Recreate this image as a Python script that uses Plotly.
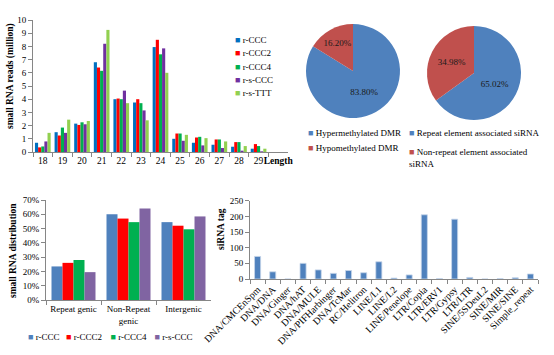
import plotly.graph_objects as go

# ---------------- data ----------------
lengths = ["18", "19", "20", "21", "22", "23", "24", "25", "26", "27", "28", "29"]
len_axis_labels = lengths + ["Length"]
series_names = ["r-CCC", "r-CCC2", "r-CCC4", "r-s-CCC", "r-s-TTT"]
reads_rccc = [0.70, 1.50, 2.15, 6.80, 4.00, 3.75, 7.95, 1.00, 0.70, 0.55, 0.40, 0.25]
reads_rccc2 = [0.35, 1.25, 2.05, 6.40, 4.05, 4.00, 8.50, 1.40, 1.10, 0.95, 0.75, 0.60]
reads_rccc4 = [0.42, 1.85, 2.25, 6.15, 4.00, 3.70, 7.40, 1.40, 1.15, 0.95, 0.75, 0.45]
reads_rsccc = [0.80, 1.45, 2.10, 8.20, 4.65, 3.15, 7.85, 0.85, 0.50, 0.30, 0.10, 0.05]
reads_rsttt = [1.45, 2.45, 2.35, 9.25, 3.70, 2.40, 6.00, 1.30, 1.05, 0.80, 0.45, 0.25]

dmr_labels = ["Hypermethylated DMR", "Hypomethylated DMR"]
dmr_values = [83.80, 16.20]
sirna_labels = ["Repeat element associated siRNA", "Non-repeat element associated<br>siRNA"]
sirna_values = [65.02, 34.98]

dist_categories = ["Repeat genic", "Non-Repeat<br>genic", "Intergenic"]
dist_names = ["r-CCC", "r-CCC2", "r-CCC4", "r-s-CCC"]
dist_rccc = [0.235, 0.600, 0.545]
dist_rccc2 = [0.260, 0.570, 0.520]
dist_rccc4 = [0.280, 0.545, 0.495]
dist_rsccc = [0.195, 0.640, 0.585]

repeat_classes = ["DNA/CMCEnSpm", "DNA/DNA", "DNA/Ginger", "DNA/hAT", "DNA/MULE",
                  "DNA/PIFHarbinger", "DNA/TcMar", "RC/Helitron", "LINE/L1", "LINE/L2",
                  "LINE/Penelope", "LTR/Copia", "LTR/ERV1", "LTR/Gypsy", "LTR/LTR",
                  "SINE/5SDeuL2", "SINE/MIR", "SINE/SINE", "Simple_repeat"]
sirna_tags = [72, 23, 0, 50, 29, 18, 27, 20, 55, 3, 13, 205, 1, 191, 5, 0, 1, 4, 16]

# ---------------- styling ----------------
W, H = 554, 355
SERIF = "Liberation Serif"
AX = "#868686"
FS = 9
tl_colors = ["#0070C0", "#FF0000", "#00B050", "#7030A0", "#92D050"]
bl_colors = ["#4F81BD", "#FF0000", "#00B050", "#8064A2"]
pie_colors = ["#4F81BD", "#C0504D"]


def px_x(a, b):
    return [a / W, b / W]


def px_y(top, bottom):
    return [1 - bottom / H, 1 - top / H]


fig = go.Figure()
legends = {}
legend_count = [0]


def legend_entry(name, color, glyph_left_x, y_px):
    """One legend box per entry so entries sit where the reference puts them.
    The small coloured square is drawn as a glyph in the entry text."""
    legend_count[0] += 1
    lid = "legend" if legend_count[0] == 1 else f"legend{legend_count[0]}"
    label = f"<span style='color:{color}'>\u25A0</span> {name}"
    fig.add_trace(go.Scatter(x=[None], y=[None], mode="markers", name=label,
                             marker=dict(size=1, color="rgba(0,0,0,0)",
                                         line=dict(width=0, color="rgba(0,0,0,0)")),
                             legend=lid, showlegend=True, hoverinfo="skip",
                             xaxis="x", yaxis="y"))
    legends[lid] = dict(x=(glyph_left_x - 40) / W, y=1 - y_px / H, xanchor="left",
                        yanchor="middle",
                        font=dict(family=SERIF, size=FS, color="black"),
                        bgcolor="rgba(0,0,0,0)", itemwidth=30, borderwidth=0)


# top-left grouped bars
for name, vals, col in zip(series_names,
                           [reads_rccc, reads_rccc2, reads_rccc4, reads_rsccc, reads_rsttt],
                           tl_colors):
    fig.add_trace(go.Bar(x=lengths, y=vals, name=name, marker_color=col,
                         marker_line_width=0, xaxis="x", yaxis="y", showlegend=False))
for name, col, ypx in zip(series_names, tl_colors, [39.5, 52.7, 66.0, 79.3, 92.7]):
    legend_entry(name, col, 235, ypx)

# pies
pie_common = dict(sort=False, direction="clockwise", rotation=0,
                  marker=dict(colors=pie_colors, line=dict(width=0)),
                  texttemplate="%{value:.2f}%", textposition="inside",
                  insidetextorientation="horizontal",
                  textfont=dict(family=SERIF, size=FS, color="#1a1a1a"),
                  showlegend=False, hoverinfo="skip")
fig.add_trace(go.Pie(labels=dmr_labels, values=dmr_values,
                     domain=dict(x=px_x(306, 400), y=px_y(24, 118)), **pie_common))
fig.add_trace(go.Pie(labels=sirna_labels, values=sirna_values,
                     domain=dict(x=px_x(427, 521), y=px_y(26, 120)), **pie_common))
legend_entry(dmr_labels[0], pie_colors[0], 308, 132.7)
legend_entry(dmr_labels[1], pie_colors[1], 308, 147.3)
legend_entry(sirna_labels[0], pie_colors[0], 409, 132.7)
legend_entry(sirna_labels[1], pie_colors[1], 409, 157.5)

# bottom-left grouped bars
for name, vals, col in zip(dist_names, [dist_rccc, dist_rccc2, dist_rccc4, dist_rsccc], bl_colors):
    fig.add_trace(go.Bar(x=dist_categories, y=vals, name=name, marker_color=col,
                         marker_line_width=0, xaxis="x2", yaxis="y2", showlegend=False))
for name, col, xpx in zip(dist_names, bl_colors, [28, 66, 110.5, 154.5]):
    legend_entry(name, col, xpx, 336.7)

# bottom-right bars
fig.add_trace(go.Bar(x=repeat_classes, y=sirna_tags, name="siRNA tag", marker_color="#4F81BD",
                     marker_line=dict(color="#C6D5EA", width=0.8), width=0.4,
                     xaxis="x3", yaxis="y3", showlegend=False))

tickfont = dict(family=SERIF, size=FS, color="black")
common_ax = dict(showline=True, linecolor=AX, linewidth=1, ticks="outside", tickcolor=AX,
                 ticklen=4, showgrid=False, zeroline=False, tickfont=tickfont, fixedrange=True)


def ytitle(text, x_px, y_px):
    return dict(text=f"<b>{text}</b>", x=x_px / W, y=1 - y_px / H,
                xref="paper", yref="paper", xanchor="center", yanchor="middle",
                textangle=-90, showarrow=False, font=dict(family=SERIF, size=9.5))


fig.update_layout(
    width=W, height=H, margin=dict(l=0, r=0, t=0, b=0, autoexpand=False),
    paper_bgcolor="white", plot_bgcolor="white",
    barmode="group", bargap=0.2, bargroupgap=0,
    font=dict(family=SERIF, size=FS, color="black"),
    xaxis=dict(common_ax, domain=px_x(33, 288), anchor="y", type="category",
               categoryorder="array", categoryarray=len_axis_labels,
               tickmode="array", tickvals=len_axis_labels,
               ticktext=lengths + ["<b>Length</b>"],
               range=[-0.5, 12.5], tickson="boundaries", tickangle=0,
               tickfont=dict(family=SERIF, size=9.5, color="black")),
    yaxis=dict(common_ax, domain=px_y(20, 152), anchor="x", range=[0, 10], dtick=1),
    xaxis2=dict(common_ax, domain=px_x(46, 211), anchor="y2", type="category",
                tickson="boundaries", tickangle=0, range=[-0.5, 2.5]),
    yaxis2=dict(common_ax, domain=px_y(200, 300), anchor="x2", range=[0, 0.7], dtick=0.1,
                tickformat=".0%"),
    xaxis3=dict(common_ax, domain=px_x(250, 538), anchor="y3", type="category",
                tickson="boundaries", tickangle=-45, range=[-0.5, 18.5],
                tickmode="array", tickvals=repeat_classes,
                tickfont=dict(family=SERIF, size=9.8, color="black")),
    yaxis3=dict(common_ax, domain=px_y(200.7, 279), anchor="x3", range=[0, 250], dtick=50),
    annotations=[
        ytitle("small RNA reads (million)", 11, 76),
        ytitle("small RNA distribution", 13, 251),
        ytitle("siRNA tag", 221, 229),
    ],
)
fig.update_layout(**legends)

# the page's default 8px body margin would shift the whole figure; remove it
fig.write_html("out.html",
               config={"displayModeBar": False, "staticPlot": True},
               post_script="document.body.style.margin='0px';"
                           "document.body.style.overflow='hidden';")
